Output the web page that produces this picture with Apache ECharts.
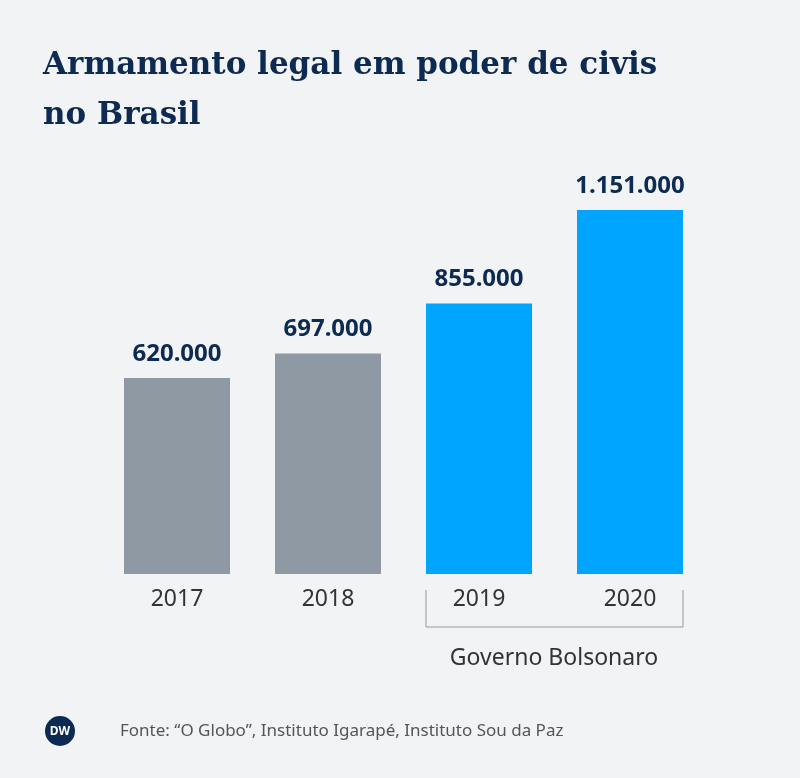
<!DOCTYPE html>
<html><head><meta charset="utf-8">
<script src="https://cdn.jsdelivr.net/npm/echarts@6/dist/echarts.min.js"></script>
<style>html,body{margin:0;background:#f1f3f5}#c{width:800px;height:778px}</style>
</head><body><div id="c"></div>
<script>
const categories = ['2017','2018','2019','2020'];
const values = [620000, 697000, 855000, 1151000];
const colors = ['#8f99a3','#8f99a3','#00a5ff','#00a5ff'];
const chart = echarts.init(document.getElementById('c'));
chart.setOption({
  backgroundColor:'#f1f3f5',
  title:{text:'Armamento legal em poder de civis\nno Brasil',left:38,top:36,
    textStyle:{fontFamily:'DejaVu Serif',fontSize:31,fontWeight:'bold',color:'#0c2a52',lineHeight:50}},
  grid:{left:101.5,right:94.5,top:210,bottom:204},
  xAxis:{type:'category',data:categories,axisLine:{show:false},axisTick:{show:false},
    axisLabel:{margin:14,fontSize:23,color:'#333',fontFamily:'Noto Sans'}},
  yAxis:{type:'value',min:0,max:1151000,show:false,splitLine:{show:false}},
  series:[{type:'bar',barWidth:106,data:values.map((v,i)=>({value:v,itemStyle:{color:colors[i]}})),
    label:{show:true,position:'top',distance:12,fontSize:24,fontWeight:'bold',color:'#0c2a52',fontFamily:'Noto Sans',
      formatter:p=>p.value.toLocaleString('de-DE')}}],
  graphic:[
    {type:'polyline',shape:{points:[[426,590],[426,627],[683,627],[683,590]]},style:{stroke:'#999',lineWidth:1,fill:null}},
    {type:'text',style:{text:'Governo Bolsonaro',x:554,y:658,align:'center',verticalAlign:'middle',fontSize:23,fill:'#333',fontFamily:'Noto Sans'}},
    {type:'circle',shape:{cx:60,cy:731,r:15},style:{fill:'#0c2a52'}},
    {type:'text',style:{text:'DW',x:60,y:732,align:'center',verticalAlign:'middle',fontSize:12,fontWeight:'bold',fill:'#fff',fontFamily:'Noto Sans'}},
    {type:'text',style:{text:'Fonte: “O Globo”, Instituto Igarapé, Instituto Sou da Paz',x:120,y:731,verticalAlign:'middle',fontSize:17,fill:'#555',fontFamily:'Noto Sans'}}
  ]
});
</script></body></html>
